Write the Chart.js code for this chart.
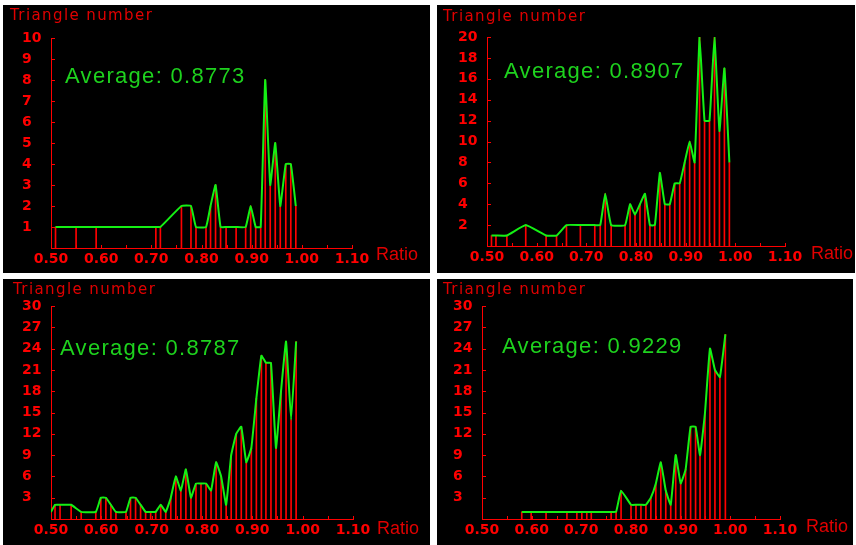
<!DOCTYPE html>
<html>
<head>
<meta charset="utf-8">
<script src="https://cdn.jsdelivr.net/npm/chart.js@4/dist/chart.umd.min.js"></script>
<style>
    body { margin: 0; background: #ffffff; width: 856px; height: 545px; position: relative; overflow: hidden; }
    .panel { position: absolute; background: #000000; overflow: hidden; }
    .panel canvas { position: absolute; left: 0; top: 0; }
    .ylab { position: absolute; color: #e00000; font: 15px "DejaVu Sans"; letter-spacing: 1.4px; line-height: 1; white-space: nowrap; }
    .xlab { position: absolute; color: #e00000; font: 18px "Liberation Sans"; line-height: 1; white-space: nowrap; }
    .avg { position: absolute; color: #1ed21e; font: 22px "Liberation Sans"; letter-spacing: 1.3px; line-height: 1; white-space: nowrap; }
</style>
</head>
<body>
<div class="panel" id="p1" style="left:3px;top:5px;width:427px;height:268px">
    <canvas id="c1" width="427" height="268"></canvas>
    <div class="ylab" style="left:7px;top:3px">Triangle number</div>
    <div class="xlab" style="left:373px;top:240px">Ratio</div>
    <div class="avg" id="a1" style="left:62px;top:60px"></div>
</div>
<div class="panel" id="p2" style="left:437px;top:5px;width:418px;height:268px">
    <canvas id="c2" width="418" height="268"></canvas>
    <div class="ylab" style="left:6px;top:4px">Triangle number</div>
    <div class="xlab" style="left:374px;top:239px">Ratio</div>
    <div class="avg" id="a2" style="left:67px;top:55px"></div>
</div>
<div class="panel" id="p3" style="left:3px;top:279px;width:427px;height:266px">
    <canvas id="c3" width="427" height="266"></canvas>
    <div class="ylab" style="left:10px;top:3px">Triangle number</div>
    <div class="xlab" style="left:374px;top:240px">Ratio</div>
    <div class="avg" id="a3" style="left:57px;top:58px"></div>
</div>
<div class="panel" id="p4" style="left:437px;top:279px;width:416px;height:266px">
    <canvas id="c4" width="416" height="266"></canvas>
    <div class="ylab" style="left:6px;top:3px">Triangle number</div>
    <div class="xlab" style="left:369px;top:238px">Ratio</div>
    <div class="avg" id="a4" style="left:65px;top:56px"></div>
</div>
<script>
// Ratio positions and triangle counts
const panel1Ratio = [0.509, 0.550, 0.590, 0.709, 0.718, 0.760, 0.779, 0.789, 0.809, 0.818, 0.828, 0.838, 0.849, 0.869, 0.888, 0.898, 0.908, 0.918, 0.927, 0.937, 0.947, 0.957, 0.968, 0.978, 0.988];
const panel1Count = [1, 1, 1, 1, 1, 2, 2, 1, 1, 2, 3, 1, 1, 1, 1, 2, 1, 1, 8, 3, 5, 2, 4, 4, 2];

const panel2Ratio = [0.509, 0.518, 0.540, 0.578, 0.619, 0.640, 0.660, 0.688, 0.717, 0.728, 0.738, 0.750, 0.778, 0.788, 0.798, 0.808, 0.818, 0.828, 0.838, 0.848, 0.858, 0.868, 0.878, 0.888, 0.898, 0.908, 0.918, 0.928, 0.938, 0.948, 0.958, 0.968, 0.978, 0.988];
const panel2Count = [1, 1, 1, 2, 1, 1, 2, 2, 2, 2, 5, 2, 2, 4, 3, 4, 5, 2, 2, 7, 4, 4, 6, 6, 8, 10, 8, 20, 12, 12, 20, 11, 17, 8];

const panel3Ratio = [0.500, 0.508, 0.518, 0.540, 0.560, 0.589, 0.599, 0.609, 0.619, 0.629, 0.649, 0.658, 0.668, 0.678, 0.688, 0.698, 0.708, 0.718, 0.728, 0.738, 0.748, 0.758, 0.768, 0.778, 0.788, 0.798, 0.808, 0.818, 0.828, 0.838, 0.848, 0.858, 0.868, 0.878, 0.888, 0.898, 0.908, 0.918, 0.927, 0.937, 0.947, 0.957, 0.967, 0.977, 0.987];
const panel3Count = [1, 2, 2, 2, 1, 1, 3, 3, 2, 1, 1, 3, 3, 2, 1, 1, 1, 2, 1, 3, 6, 4, 7, 3, 5, 5, 5, 4, 8, 6, 2, 9, 12, 13, 8, 10, 17, 23, 22, 22, 10, 18, 25, 14, 25];

const panel4Ratio = [0.580, 0.599, 0.629, 0.671, 0.691, 0.701, 0.711, 0.720, 0.760, 0.770, 0.780, 0.800, 0.810, 0.820, 0.830, 0.840, 0.850, 0.860, 0.870, 0.880, 0.890, 0.900, 0.910, 0.920, 0.930, 0.939, 0.949, 0.959, 0.969, 0.979, 0.990];
const panel4Count = [1, 1, 1, 1, 1, 1, 1, 1, 1, 1, 4, 2, 2, 2, 2, 3, 5, 8, 4, 2, 9, 5, 7, 13, 13, 9, 15, 24, 21, 20, 26];

const averages = ['0.8773', '0.8907', '0.8787', '0.9229'];
const yMax = [10, 20, 30, 30];
const yStep = [1, 2, 3, 3];
const xMin = 0.50, xMax = 1.10, xStep = 0.05;

// Short tick marks pointing into the plot, like the original
const innerTicks = {
    id: 'innerTicks',
    afterDraw(chart) {
        const { ctx, chartArea, scales: { x, y } } = chart;
        ctx.save();
        ctx.strokeStyle = '#ff0000';
        ctx.lineWidth = 1;
        ctx.beginPath();
        x.ticks.forEach(t => {
            const px = Math.round(x.getPixelForValue(t.value)) + 0.5;
            ctx.moveTo(px, chartArea.bottom);
            ctx.lineTo(px, chartArea.bottom - 3);
        });
        y.ticks.forEach(t => {
            const py = Math.round(y.getPixelForValue(t.value)) + 0.5;
            ctx.moveTo(chartArea.left, py);
            ctx.lineTo(chartArea.left + 4, py);
        });
        ctx.stroke();
        ctx.restore();
    }
};

function makePanel(id, ratios, counts, idx, pad) {
    const points = ratios.map((r, i) => ({ x: r, y: counts[i] }));
    document.getElementById('a' + id).textContent = 'Average: ' + averages[idx];

    new Chart(document.getElementById('c' + id), {
        type: 'bar',
        data: {
            datasets: [{
                type: 'line',
                data: points,
                borderColor: '#14f014',
                borderWidth: 2,
                pointRadius: 0,
                tension: 0.1,
                fill: false,
                order: 1
            }, {
                type: 'bar',
                data: points,
                backgroundColor: '#ff0000',
                barThickness: 1,
                borderWidth: 0,
                order: 2
            }]
        },
        options: {
            responsive: false,
            devicePixelRatio: 1,
            animation: false,
            layout: { padding: pad },
            plugins: { legend: { display: false }, tooltip: { enabled: false } },
            scales: {
                x: {
                    type: 'linear',
                    min: xMin,
                    max: xMax,
                    offset: false,
                    grid: { display: false, drawTicks: false, offset: false },
                    border: { display: true, color: '#ff0000', width: 1 },
                    afterFit: s => { s.height = 20; },
                    ticks: {
                        stepSize: xStep,
                        autoSkip: false,
                        maxRotation: 0,
                        padding: 3,
                        color: '#ff0000',
                        font: { family: 'DejaVu Sans', size: 14, weight: 'bold' },
                        callback: v => Math.round(v * 100) % 10 === 0 ? v.toFixed(2) : ''
                    }
                },
                y: {
                    min: 0,
                    max: yMax[idx],
                    grid: { display: false, drawTicks: false },
                    border: { display: true, color: '#ff0000', width: 1 },
                    afterFit: s => { s.width = 29; },
                    ticks: {
                        stepSize: yStep[idx],
                        crossAlign: 'far',
                        color: '#ff0000',
                        font: { family: 'DejaVu Sans', size: 14, weight: 'bold' },
                        callback: v => v === 0 ? '' : v
                    }
                }
            }
        },
        plugins: [innerTicks]
    });
}

makePanel(1, panel1Ratio, panel1Count, 0, { left: 19, right: 78, top: 33, bottom: 5 });
makePanel(2, panel2Ratio, panel2Count, 1, { left: 21, right: 70, top: 32, bottom: 7 });
makePanel(3, panel3Ratio, panel3Count, 2, { left: 19, right: 77, top: 27, bottom: 6 });
makePanel(4, panel4Ratio, panel4Count, 3, { left: 16, right: 73, top: 27, bottom: 6 });
</script>
</body>
</html>
